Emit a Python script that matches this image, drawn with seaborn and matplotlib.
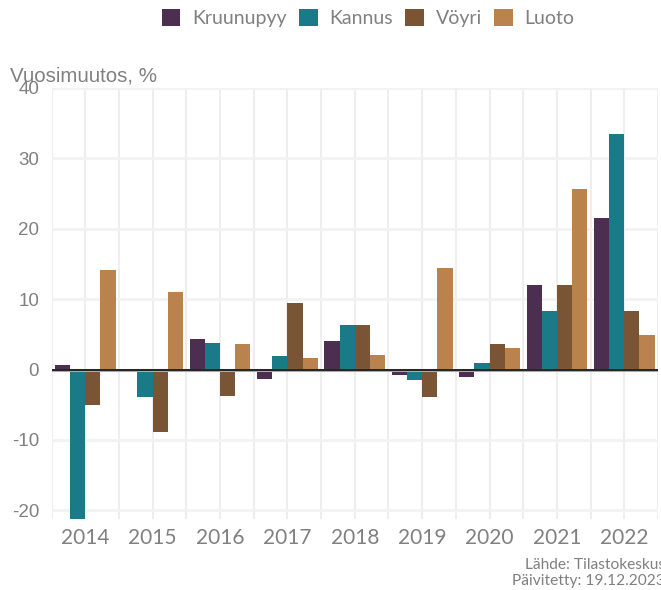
import numpy as np
import pandas as pd
import matplotlib
matplotlib.use('Agg')
import matplotlib.pyplot as plt
import seaborn as sns

# data (yearly change, %)
years = ['2014', '2015', '2016', '2017', '2018', '2019', '2020', '2021', '2022']
areas = ['Kruunupyy', 'Kannus', 'Vöyri', 'Luoto']
kruunupyy = [0.7, 0.0, 4.4, -1.3, 4.0, -0.8, -1.1, 12.0, 21.5]
kannus = [-21.5, -3.9, 3.7, 1.9, 6.3, -1.5, 0.9, 8.3, 33.5]
voyri = [-5.1, -8.9, -3.7, 9.4, 6.3, -3.9, 3.6, 12.0, 8.3]
luoto = [14.2, 11.0, 3.6, 1.6, 2.0, 14.4, 3.0, 25.6, 4.9]
colors = ['#4B2E50', '#1B7A87', '#7A5535', '#BA824C']

df = pd.DataFrame({
    'year': years * 4,
    'area': np.repeat(areas, len(years)),
    'value': kruunupyy + kannus + voyri + luoto,
})

sns.set_theme(style='white')
plt.rcParams['font.family'] = ['Lato', 'DejaVu Sans']
plt.rcParams['axes.unicode_minus'] = False

fig = plt.figure(figsize=(6.61, 5.90), dpi=100)
ax = fig.add_axes([0.078, 0.1195, 0.9175, 0.7315])

sns.barplot(data=df, x='year', y='value', hue='area', hue_order=areas,
            palette=colors, saturation=1, width=0.9, gap=0, ax=ax,
            errorbar=None, linewidth=0, zorder=2)

ax.set_xlim(-0.5, len(years) - 0.5)
ax.set_ylim(-21.3, 40)
ax.set_yticks([-20, -10, 0, 10, 20, 30, 40])
ax.set_xticks(np.arange(-0.5, len(years), 1.0), minor=True)
ax.grid(True, which='both', axis='x', color='#EEEEEE', lw=1.5, zorder=0)
ax.grid(True, which='major', axis='y', color='#F2F2F2', lw=2, zorder=0)
ax.set_axisbelow(True)
ax.axhline(0, color='#AAAAAA', lw=2.2, zorder=3)
ax.axhline(0, color='black', lw=1.1, zorder=4)

for s in ax.spines.values():
    s.set_visible(False)
ax.tick_params(axis='both', which='both', length=0)
ax.tick_params(axis='x', pad=6, labelsize=15, labelcolor='#808080')
ax.tick_params(axis='y', pad=9, labelsize=13.5, labelcolor='#808080')
for lab in ax.get_yticklabels():
    lab.set_family('Liberation Sans')
ax.set_xlabel('')
ax.set_ylabel('')

ax.legend(loc='center', bbox_to_anchor=(0.557, 0.969), bbox_transform=fig.transFigure,
          ncol=4, frameon=False, fontsize=14, labelcolor='#808080',
          handlelength=0.95, handleheight=0.95, handletextpad=0.6, columnspacing=0.65)

fig.text(0.015, 1 - 82 / 590, 'Vuosimuutos, %', fontsize=14.8, color='#808080',
         family='Liberation Sans', va='baseline', ha='left')
fig.text(1.006, 1 - 569 / 590, 'Lähde: Tilastokeskus', fontsize=11.2,
         color='#808080', ha='right', va='baseline')
fig.text(1.006, 1 - 585 / 590, 'Päivitetty: 19.12.2023', fontsize=11.2,
         color='#808080', ha='right', va='baseline')

plt.savefig('out.png', dpi=100)
